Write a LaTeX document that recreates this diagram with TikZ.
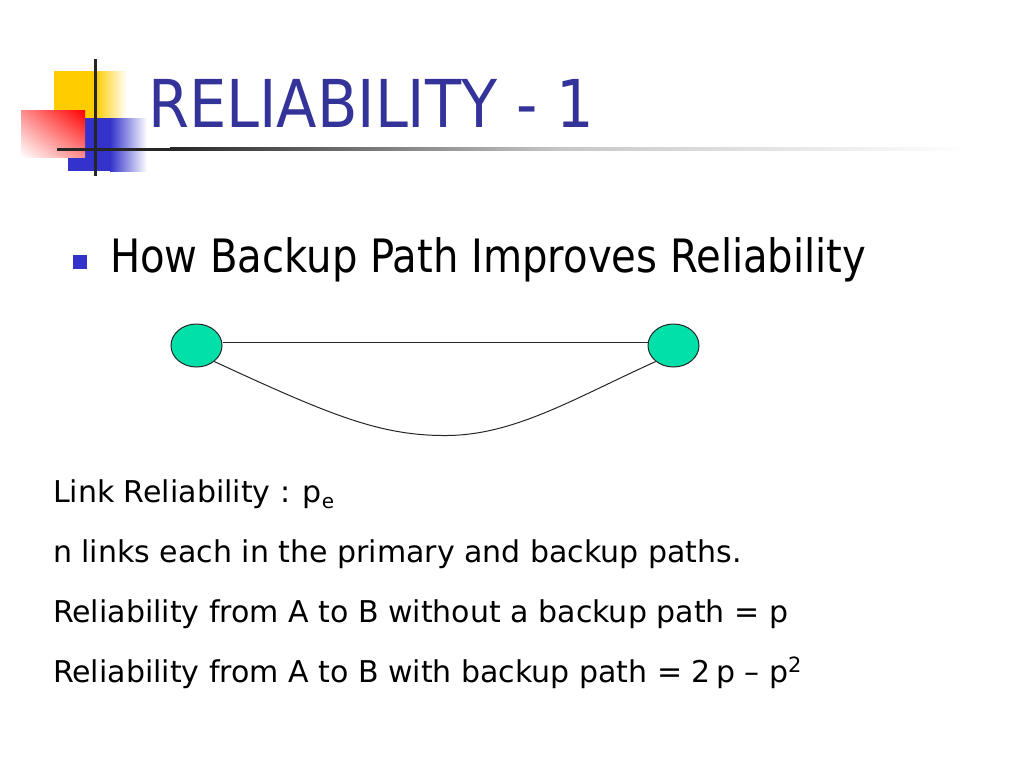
\documentclass[tikz,border=0pt]{standalone}
\usepackage{fontspec}
\setmainfont{DejaVu Sans}
\usetikzlibrary{shapes.geometric,shadings}
\definecolor{titleblue}{RGB}{51,51,153}
\definecolor{bulletblue}{RGB}{51,51,204}
\definecolor{logoyellow}{RGB}{255,204,0}
\definecolor{logoblue}{RGB}{51,51,204}
\definecolor{nodegreen}{RGB}{0,224,168}
\tikzset{
  txt/.style={anchor=base west, inner sep=0pt, outer sep=0pt},
  body/.style={txt, font=\fontsize{30}{36}\selectfont},
  station/.style={ellipse, draw=black!85, line width=1pt, fill=nodegreen, minimum width=51pt, minimum height=43pt, inner sep=0pt},
  link/.style={draw=black!85, line width=1pt}
}
\begin{document}
\begin{tikzpicture}[x=1pt,y=-1pt]
\useasboundingbox (0,0) rectangle (1024,768);
\fill[white] (0,0) rectangle (1024,768);
% logo
\fill[logoyellow] (54,71) rectangle (95,118);
\shade[left color=logoyellow, right color=white] (95,71) rectangle (127,118);
\fill[logoblue] (68,118) rectangle (110,171);
\shade[left color=logoblue, right color=white] (110,118) rectangle (147,171);
\shade[upper right=red, lower left=white, upper left=red!45!white, lower right=red!45!white] (21,110) rectangle (85,157);
\fill[black!85] (93.5,59) rectangle (96.5,176);
\fill[black!85] (57,147.5) rectangle (170,150.5);
\shade[left color=black!85, right color=black!22] (170,147.5) rectangle (560,150.5);
\shade[left color=black!22, right color=white] (560,147.5) rectangle (970,150.5);
% title
\node[txt, font=\fontsize{66}{70}\selectfont, text=titleblue] (title) at (148,127) {\scalebox{0.895}[1]{RELIABILITY - 1}};
% bullet
\fill[bulletblue] (73,255) rectangle (87,269);
\node[txt, font=\fontsize{46}{50}\selectfont] (head) at (110,272) {\scalebox{0.873}[1]{How Backup Path Improves Reliability}};
% graph
\node[station] (A) at (196.5,345.5) {};
\node[station] (B) at (673.5,345.5) {};
\draw[link] (A.east |- 0,342) -- (B.west |- 0,342);
\coordinate (bot) at (447,435.5);
\draw[link] (A.-42) .. controls (330,415) and (380,436) .. (bot) .. controls (515,435) and (575,398) .. (B.-138);
% body
\node[body] (l1) at (53,502) {Link Reliability : p\raisebox{-6pt}{\fontsize{20}{20}\selectfont e}};
\node[body] (l2) at (53,562) {n links each in the primary and backup paths.};
\node[body] (l3) at (53,622) {Reliability from A to B without a backup path = p};
\node[body] (l4) at (53,682) {Reliability from A to B with backup path = 2\,p – p\textsuperscript{2}};
\end{tikzpicture}
\end{document}
